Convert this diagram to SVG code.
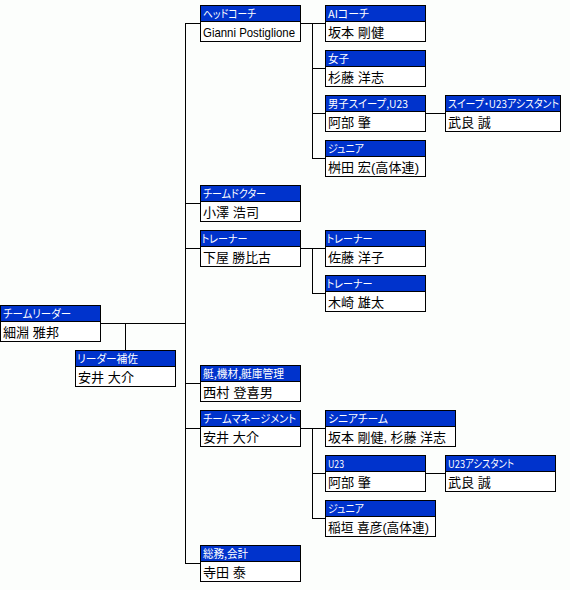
<svg xmlns="http://www.w3.org/2000/svg" width="570" height="590" viewBox="0 0 570 590">
<style>
.bx{fill:#ffffff;stroke:#000;stroke-width:1}
.hd{fill:#0033cc;stroke:#000;stroke-width:1}
.ht{fill:#ffffff;font-family:"Noto Sans CJK JP","Liberation Sans",sans-serif;font-size:11px;font-feature-settings:"palt"}
.bt{fill:#000;font-family:"Liberation Sans","Noto Sans CJK JP",sans-serif;font-size:13px;font-feature-settings:"palt"}
.cn{stroke:#000;stroke-width:1;fill:none}
</style>
<rect x="0" y="0" width="570" height="590" fill="#fcfefc"/>
<g id="connectors" class="cn">
<path d="M185.5,23 V564"/>
<path d="M100,323.5 H186"/>
<path d="M125.5,323 V350"/>
<path d="M185,23.5 H200 M185,203.5 H200 M185,248.5 H200 M185,383.5 H200 M185,428.5 H200 M185,563.5 H200"/>
<path d="M300,23.5 H325 M312.5,23 V159 M312,68.5 H325 M312,113.5 H325 M312,158.5 H325 M425,113.5 H445"/>
<path d="M300,248.5 H325 M312.5,248 V294 M312,293.5 H325"/>
<path d="M300,428.5 H325 M312.5,428 V519 M312,473.5 H325 M312,518.5 H325 M425,473.5 H445"/>
</g>
<g id="n-leader" transform="translate(0,305)"><rect class="bx" x="0.5" y="0.5" width="100" height="36"/><rect class="hd" x="0.5" y="0.5" width="100" height="16"/><text class="ht" x="3" y="13" textLength="68" lengthAdjust="spacingAndGlyphs">チームリーダー</text><text class="bt" x="3" y="32" textLength="56" lengthAdjust="spacingAndGlyphs">細淵 雅邦</text></g>
<g id="n-assist" transform="translate(75,350)"><rect class="bx" x="0.5" y="0.5" width="100" height="36"/><rect class="hd" x="0.5" y="0.5" width="100" height="16"/><text class="ht" x="2" y="13" textLength="61" lengthAdjust="spacingAndGlyphs">リーダー補佐</text><text class="bt" x="3" y="32" textLength="56" lengthAdjust="spacingAndGlyphs">安井 大介</text></g>
<g id="n-headcoach" transform="translate(200,5)"><rect class="bx" x="0.5" y="0.5" width="100" height="36"/><rect class="hd" x="0.5" y="0.5" width="100" height="16"/><text class="ht" x="3" y="13" textLength="53" lengthAdjust="spacingAndGlyphs">ヘッドコーチ</text><text class="bt" x="3" y="32" textLength="92" lengthAdjust="spacingAndGlyphs">Gianni Postiglione</text></g>
<g id="n-doctor" transform="translate(200,185)"><rect class="bx" x="0.5" y="0.5" width="100" height="36"/><rect class="hd" x="0.5" y="0.5" width="100" height="16"/><text class="ht" x="3" y="13" textLength="63" lengthAdjust="spacingAndGlyphs">チームドクター</text><text class="bt" x="3" y="32" textLength="56" lengthAdjust="spacingAndGlyphs">小澤 浩司</text></g>
<g id="n-trainer" transform="translate(200,230)"><rect class="bx" x="0.5" y="0.5" width="100" height="36"/><rect class="hd" x="0.5" y="0.5" width="100" height="16"/><text class="ht" x="1.5" y="13" textLength="46" lengthAdjust="spacingAndGlyphs">トレーナー</text><text class="bt" x="3" y="32" textLength="68" lengthAdjust="spacingAndGlyphs">下屋 勝比古</text></g>
<g id="n-boat" transform="translate(200,365)"><rect class="bx" x="0.5" y="0.5" width="100" height="36"/><rect class="hd" x="0.5" y="0.5" width="100" height="16"/><text class="ht" x="3" y="13" textLength="81" lengthAdjust="spacingAndGlyphs">艇,機材,艇庫管理</text><text class="bt" x="3" y="32" textLength="70" lengthAdjust="spacingAndGlyphs">西村 登喜男</text></g>
<g id="n-mgmt" transform="translate(200,410)"><rect class="bx" x="0.5" y="0.5" width="100" height="36"/><rect class="hd" x="0.5" y="0.5" width="100" height="16"/><text class="ht" x="3" y="13" textLength="93" lengthAdjust="spacingAndGlyphs">チームマネージメント</text><text class="bt" x="3" y="32" textLength="56" lengthAdjust="spacingAndGlyphs">安井 大介</text></g>
<g id="n-admin" transform="translate(200,545)"><rect class="bx" x="0.5" y="0.5" width="100" height="36"/><rect class="hd" x="0.5" y="0.5" width="100" height="16"/><text class="ht" x="3" y="13" textLength="45" lengthAdjust="spacingAndGlyphs">総務,会計</text><text class="bt" x="3" y="32" textLength="43" lengthAdjust="spacingAndGlyphs">寺田 泰</text></g>
<g id="n-aicoach" transform="translate(325,5)"><rect class="bx" x="0.5" y="0.5" width="100" height="36"/><rect class="hd" x="0.5" y="0.5" width="100" height="16"/><text class="ht" x="3" y="13" textLength="41" lengthAdjust="spacingAndGlyphs">AIコーチ</text><text class="bt" x="3" y="32" textLength="56" lengthAdjust="spacingAndGlyphs">坂本 剛健</text></g>
<g id="n-women" transform="translate(325,50)"><rect class="bx" x="0.5" y="0.5" width="100" height="36"/><rect class="hd" x="0.5" y="0.5" width="100" height="16"/><text class="ht" x="3" y="13" textLength="21" lengthAdjust="spacingAndGlyphs">女子</text><text class="bt" x="3" y="32" textLength="56" lengthAdjust="spacingAndGlyphs">杉藤 洋志</text></g>
<g id="n-mensweep" transform="translate(325,95)"><rect class="bx" x="0.5" y="0.5" width="100" height="36"/><rect class="hd" x="0.5" y="0.5" width="100" height="16"/><text class="ht" x="3" y="13" textLength="80" lengthAdjust="spacingAndGlyphs">男子スイープ,U23</text><text class="bt" x="3" y="32" textLength="43" lengthAdjust="spacingAndGlyphs">阿部 肇</text></g>
<g id="n-sweepassist" transform="translate(445,95)"><rect class="bx" x="0.5" y="0.5" width="115" height="36"/><rect class="hd" x="0.5" y="0.5" width="115" height="16"/><text class="ht" x="3" y="13" textLength="111" lengthAdjust="spacingAndGlyphs">スイープ・U23アシスタント</text><text class="bt" x="3" y="32" textLength="43" lengthAdjust="spacingAndGlyphs">武良 誠</text></g>
<g id="n-junior1" transform="translate(325,140)"><rect class="bx" x="0.5" y="0.5" width="100" height="36"/><rect class="hd" x="0.5" y="0.5" width="100" height="16"/><text class="ht" x="3" y="13" textLength="36" lengthAdjust="spacingAndGlyphs">ジュニア</text><text class="bt" x="3" y="32" textLength="91" lengthAdjust="spacingAndGlyphs">桝田 宏(高体連)</text></g>
<g id="n-trainer1" transform="translate(325,230)"><rect class="bx" x="0.5" y="0.5" width="100" height="36"/><rect class="hd" x="0.5" y="0.5" width="100" height="16"/><text class="ht" x="1.5" y="13" textLength="46" lengthAdjust="spacingAndGlyphs">トレーナー</text><text class="bt" x="3" y="32" textLength="56" lengthAdjust="spacingAndGlyphs">佐藤 洋子</text></g>
<g id="n-trainer2" transform="translate(325,275)"><rect class="bx" x="0.5" y="0.5" width="100" height="36"/><rect class="hd" x="0.5" y="0.5" width="100" height="16"/><text class="ht" x="1.5" y="13" textLength="46" lengthAdjust="spacingAndGlyphs">トレーナー</text><text class="bt" x="3" y="32" textLength="56" lengthAdjust="spacingAndGlyphs">木崎 雄太</text></g>
<g id="n-senior" transform="translate(325,410)"><rect class="bx" x="0.5" y="0.5" width="130" height="36"/><rect class="hd" x="0.5" y="0.5" width="130" height="16"/><text class="ht" x="3" y="13" textLength="60" lengthAdjust="spacingAndGlyphs">シニアチーム</text><text class="bt" x="3" y="32" textLength="118" lengthAdjust="spacingAndGlyphs">坂本 剛健, 杉藤 洋志</text></g>
<g id="n-u23" transform="translate(325,455)"><rect class="bx" x="0.5" y="0.5" width="100" height="36"/><rect class="hd" x="0.5" y="0.5" width="100" height="16"/><text class="ht" x="3" y="13" textLength="16" lengthAdjust="spacingAndGlyphs">U23</text><text class="bt" x="3" y="32" textLength="43" lengthAdjust="spacingAndGlyphs">阿部 肇</text></g>
<g id="n-u23assist" transform="translate(445,455)"><rect class="bx" x="0.5" y="0.5" width="110" height="36"/><rect class="hd" x="0.5" y="0.5" width="110" height="16"/><text class="ht" x="3" y="13" textLength="66" lengthAdjust="spacingAndGlyphs">U23アシスタント</text><text class="bt" x="3" y="32" textLength="43" lengthAdjust="spacingAndGlyphs">武良 誠</text></g>
<g id="n-junior2" transform="translate(325,500)"><rect class="bx" x="0.5" y="0.5" width="110" height="36"/><rect class="hd" x="0.5" y="0.5" width="110" height="16"/><text class="ht" x="3" y="13" textLength="36" lengthAdjust="spacingAndGlyphs">ジュニア</text><text class="bt" x="3" y="32" textLength="101" lengthAdjust="spacingAndGlyphs">稲垣 喜彦(高体連)</text></g>
</svg>
